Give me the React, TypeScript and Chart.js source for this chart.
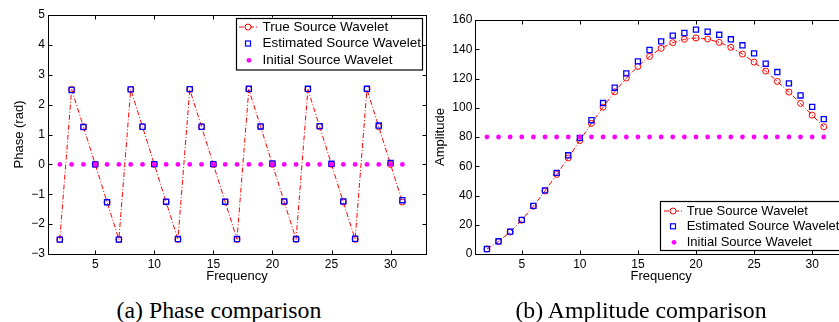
import React, { useEffect, useRef } from "react";
import { Chart, registerables } from "chart.js";

Chart.register(...registerables);

// ---------------- data ----------------
const frequencies = [2, 3, 4, 5, 6, 7, 8, 9, 10, 11, 12, 13, 14, 15, 16, 17, 18, 19, 20, 21, 22, 23, 24, 25, 26, 27, 28, 29, 30, 31];

const phaseTrue = [-2.51, 2.51, 1.26, 0, -1.26, -2.51, 2.51, 1.26, 0, -1.26, -2.51, 2.51, 1.26, 0, -1.26, -2.51, 2.51, 1.26, 0, -1.26, -2.51, 2.51, 1.26, 0, -1.26, -2.51, 2.51, 1.26, 0, -1.26];
const phaseEstimated = [-2.52, 2.49, 1.25, 0, -1.27, -2.52, 2.51, 1.26, 0.01, -1.25, -2.5, 2.52, 1.26, 0.01, -1.25, -2.5, 2.53, 1.27, 0.03, -1.24, -2.5, 2.53, 1.28, 0.02, -1.24, -2.49, 2.53, 1.3, 0.05, -1.2];
const phaseInitial = [0, 0, 0, 0, 0, 0, 0, 0, 0, 0, 0, 0, 0, 0, 0, 0, 0, 0, 0, 0, 0, 0, 0, 0, 0, 0, 0, 0, 0, 0];

const ampTrue = [3.4, 8.5, 15.1, 23.1, 32.7, 43.1, 54.4, 65.7, 77.6, 89.3, 100.4, 110.9, 120.3, 128.3, 135.1, 140.6, 144.5, 146.8, 147.7, 147.0, 144.7, 141.3, 136.7, 131.2, 125.1, 118.0, 110.7, 103.0, 95.0, 87.0];
const ampEstimated = [3.4, 8.7, 15.3, 23.3, 32.9, 43.5, 55.5, 67.5, 79.4, 91.5, 103.2, 113.7, 123.5, 131.7, 139.5, 145.4, 149.3, 151.1, 153.4, 152.0, 149.9, 146.8, 142.7, 137.2, 130.1, 124.4, 116.7, 108.4, 100.6, 92.2];
const ampInitial = [80, 80, 80, 80, 80, 80, 80, 80, 80, 80, 80, 80, 80, 80, 80, 80, 80, 80, 80, 80, 80, 80, 80, 80, 80, 80, 80, 80, 80, 80];

const xTicks = [5, 10, 15, 20, 25, 30];
const phaseTicks = [-3, -2, -1, 0, 1, 2, 3, 4, 5];
const ampTicks = [0, 20, 40, 60, 80, 100, 120, 140, 160];

const legendLabels = ["True Source Wavelet", "Estimated Source Wavelet", "Initial Source Wavelet"];
const xLabel = "Frequency";
const captions = ["(a) Phase comparison", "(b) Amplitude comparison"];

// ---------------- styles ----------------
const FONT = '"Liberation Sans", Arial, Helvetica, sans-serif';
const RED = "#ff0000";
const BLUE = "#0000ff";
const MAGENTA = "#ff00ff";
const CANVAS_H = 290;

type Panel = {
  yLabel: string;
  yMin: number;
  yMax: number;
  yTicks: number[];
  trueVals: number[];
  estVals: number[];
  initVals: number[];
  canvasLeft: number;
  canvasWidth: number;
  area: { left: number; right: number; top: number; bottom: number };
  yTitlePad: number;
  legend: {
    left: number; top: number; width: number; height: number;
    rows: number[]; fontSize: number; textX: number;
    sampleX1: number; sampleX2: number; markerX: number;
  };
};

const panels: Panel[] = [
  {
    yLabel: "Phase (rad)",
    yMin: -3, yMax: 5, yTicks: phaseTicks,
    trueVals: phaseTrue, estVals: phaseEstimated, initVals: phaseInitial,
    canvasLeft: 0, canvasWidth: 440,
    area: { left: 48, right: 426, top: 15, bottom: 254 },
    yTitlePad: 11.4,
    legend: { left: 236, top: 17.5, width: 186, height: 51.5, rows: [27, 43.5, 60.3], fontSize: 13.5, textX: 262.5, sampleX1: 239, sampleX2: 257, markerX: 248 },
  },
  {
    yLabel: "Amplitude",
    yMin: 0, yMax: 160, yTicks: ampTicks,
    trueVals: ampTrue, estVals: ampEstimated, initVals: ampInitial,
    canvasLeft: 420, canvasWidth: 440,
    area: { left: 55.3, right: 427, top: 20, bottom: 254 },
    yTitlePad: 12.2,
    legend: { left: 240, top: 201, width: 183, height: 49, rows: [211, 226.3, 242.3], fontSize: 13, textX: 266.7, sampleX1: 244, sampleX2: 262, markerX: 253 },
  },
];

const fmt = (v: number | string) => String(v).replace("-", "\u2212");

function framePlugin(p: Panel) {
  return {
    id: "frameAndLegend",
    afterDraw(chart: any) {
      const { ctx, chartArea: a, scales } = chart;
      ctx.save();
      ctx.strokeStyle = "#000";
      ctx.lineWidth = 1;
      const L = Math.round(a.left) + 0.5;
      const R = Math.round(a.right) + 0.5;
      const T = Math.round(a.top) + 0.5;
      const B = Math.round(a.bottom) + 0.5;
      ctx.strokeRect(L, T, R - L, B - T);
      ctx.beginPath();
      for (const v of xTicks) {
        const x = Math.round(scales.x.getPixelForValue(v)) + 0.5;
        ctx.moveTo(x, B); ctx.lineTo(x, B - 4);
        ctx.moveTo(x, T); ctx.lineTo(x, T + 4);
      }
      for (const v of p.yTicks) {
        const y = Math.round(scales.y.getPixelForValue(v)) + 0.5;
        ctx.moveTo(L, y); ctx.lineTo(L + 4, y);
        ctx.moveTo(R, y); ctx.lineTo(R - 4, y);
      }
      ctx.stroke();

      // legend
      const lg = p.legend;
      ctx.fillStyle = "#fff";
      ctx.fillRect(lg.left, lg.top, lg.width, lg.height);
      ctx.strokeStyle = "#000";
      ctx.lineWidth = 1.2;
      ctx.strokeRect(Math.round(lg.left) + 0.5, Math.round(lg.top) + 0.5, lg.width, lg.height);

      // row 0: dash-dot red line with circle
      ctx.strokeStyle = RED;
      ctx.lineWidth = 1;
      ctx.setLineDash([5, 2, 1, 2]);
      ctx.beginPath();
      ctx.moveTo(lg.sampleX1, lg.rows[0]);
      ctx.lineTo(lg.sampleX2, lg.rows[0]);
      ctx.stroke();
      ctx.setLineDash([]);
      ctx.beginPath();
      ctx.arc(lg.markerX, lg.rows[0], 3, 0, Math.PI * 2);
      ctx.fillStyle = "#fff";
      ctx.fill();
      ctx.stroke();
      // row 1: blue square
      ctx.strokeStyle = BLUE;
      ctx.lineWidth = 1.2;
      ctx.strokeRect(lg.markerX - 2.5, lg.rows[1] - 2.5, 5, 5);
      // row 2: magenta dot
      ctx.fillStyle = MAGENTA;
      ctx.beginPath();
      ctx.arc(lg.markerX + 1, lg.rows[2], 2.4, 0, Math.PI * 2);
      ctx.fill();

      ctx.fillStyle = "#000";
      ctx.font = `${lg.fontSize}px ${FONT}`;
      ctx.textAlign = "left";
      ctx.textBaseline = "middle";
      legendLabels.forEach((t, i) => ctx.fillText(t, lg.textX, lg.rows[i]));
      ctx.restore();
    },
  };
}

function makeChart(canvas: HTMLCanvasElement, p: Panel) {
  const pts = (ys: number[]) => frequencies.map((x, i) => ({ x, y: ys[i] }));
  return new Chart(canvas, {
    type: "line",
    data: {
      datasets: [
        {
          label: legendLabels[0],
          data: pts(p.trueVals),
          borderColor: RED,
          borderWidth: 1,
          borderDash: [5, 2, 1, 2],
          pointStyle: "circle",
          pointRadius: 3,
          pointBorderColor: RED,
          pointBackgroundColor: "rgba(0,0,0,0)",
          pointBorderWidth: 1,
          tension: 0,
          order: 3,
        },
        {
          label: legendLabels[1],
          data: pts(p.estVals),
          showLine: false,
          pointStyle: "rect",
          pointRadius: 3.6,
          pointBorderColor: BLUE,
          pointBackgroundColor: "rgba(0,0,0,0)",
          pointBorderWidth: 1.3,
          order: 2,
        },
        {
          label: legendLabels[2],
          data: pts(p.initVals),
          showLine: false,
          pointStyle: "circle",
          pointRadius: 2.4,
          pointBorderColor: MAGENTA,
          pointBackgroundColor: MAGENTA,
          pointBorderWidth: 0,
          order: 1,
        },
      ],
    } as any,
    options: {
      responsive: false,
      animation: false,
      layout: { padding: { left: 0, top: p.area.top, right: p.canvasWidth - p.area.right, bottom: 0 } },
      plugins: { legend: { display: false }, tooltip: { enabled: false } },
      scales: {
        x: {
          type: "linear",
          min: 1,
          max: 33,
          grid: { display: false, drawTicks: false },
          border: { display: false },
          afterBuildTicks: (s: any) => { s.ticks = xTicks.map((v) => ({ value: v })); },
          afterFit: (s: any) => { s.height = CANVAS_H - p.area.bottom; },
          ticks: { padding: 3, color: "#000", font: { family: FONT, size: 12 }, maxRotation: 0, autoSkip: false, callback: (v: any) => fmt(v) },
          title: { display: true, text: xLabel, color: "#000", font: { family: FONT, size: 13 }, padding: { top: 0, bottom: 5.5 } },
        },
        y: {
          type: "linear",
          min: p.yMin,
          max: p.yMax,
          grid: { display: false, drawTicks: false },
          border: { display: false },
          afterBuildTicks: (s: any) => { s.ticks = p.yTicks.map((v) => ({ value: v })); },
          afterFit: (s: any) => { s.width = p.area.left; },
          ticks: { padding: 3, color: "#000", font: { family: FONT, size: 12 }, autoSkip: false, callback: (v: any) => fmt(v) },
          title: { display: true, text: p.yLabel, color: "#000", font: { family: FONT, size: 13 }, padding: { top: p.yTitlePad, bottom: 0 } },
        },
      },
    } as any,
    plugins: [framePlugin(p)],
  });
}

function Panel({ p }: { p: Panel }) {
  const ref = useRef<HTMLCanvasElement | null>(null);
  useEffect(() => {
    if (!ref.current) return;
    const chart = makeChart(ref.current, p);
    return () => chart.destroy();
  }, [p]);
  return (
    <canvas
      ref={ref}
      width={p.canvasWidth}
      height={CANVAS_H}
      style={{ position: "absolute", left: p.canvasLeft, top: 0, width: p.canvasWidth, height: CANVAS_H }}
    />
  );
}

export default function App() {
  return (
    <div style={{ position: "fixed", left: 0, top: 0, width: 839, height: 322, overflow: "hidden", background: "#fff" }}>
      <Panel p={panels[0]} />
      <Panel p={panels[1]} />
      {captions.map((c, i) => (
        <div
          key={c}
          style={{
            position: "absolute",
            left: i === 0 ? 219 - 200 : 641 - 200,
            width: 400,
            top: 296,
            textAlign: "center",
            fontFamily: '"Liberation Serif", "Times New Roman", serif',
            fontSize: 23.8,
            lineHeight: "28px",
            color: "#000",
            whiteSpace: "nowrap",
          }}
        >
          {c}
        </div>
      ))}
    </div>
  );
}
